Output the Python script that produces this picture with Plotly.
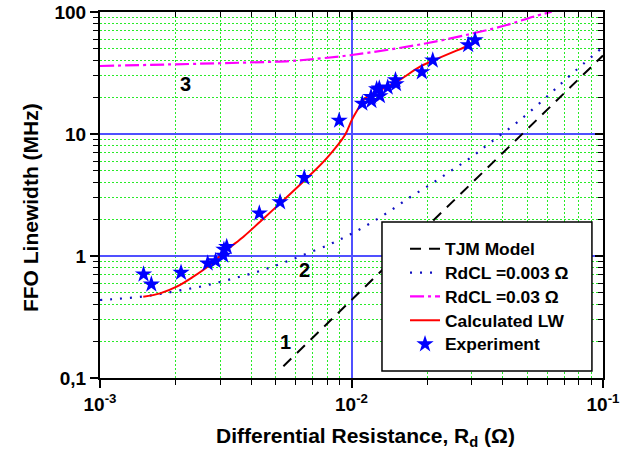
import math
import plotly.graph_objects as go

# ---------------- data ----------------
exp_x = [0.00149, 0.00160, 0.00210, 0.00268, 0.00288, 0.00309, 0.00311, 0.00319,
         0.00430, 0.00520, 0.00649, 0.00893, 0.01104, 0.01200, 0.01196, 0.01259,
         0.01297, 0.01290, 0.01393, 0.01503, 0.01496, 0.01905, 0.02104, 0.02910, 0.03100]
exp_y = [0.708, 0.586, 0.73, 0.87, 0.91, 1.01, 1.13, 1.19,
         2.24, 2.77, 4.38, 12.9, 17.8, 18.7, 20.2, 23.3,
         20.5, 23.7, 24.1, 25.7, 27.7, 32.2, 40.2, 53.7, 58.9]

calc_x = [0.001486, 0.001733, 0.002018, 0.00235, 0.002736, 0.00319, 0.00372, 0.00433,
          0.0052, 0.00653, 0.00796, 0.00942, 0.01002, 0.01064, 0.01132, 0.0126,
          0.01513, 0.01872, 0.02106, 0.0291, 0.031]
calc_y = [0.463, 0.494, 0.56, 0.677, 0.844, 1.12, 1.44, 1.91,
          2.70, 4.20, 6.32, 9.82, 13.0, 16.2, 19.6, 22.2,
          26.8, 35.6, 39.9, 52.9, 56.0]

rd03_x = [0.001, 0.00569, 0.00643, 0.01002, 0.0199, 0.0305, 0.0414, 0.0528, 0.0625]
rd03_y = [36.1, 39.6, 40.4, 44.4, 55.4, 66.9, 78.2, 91.5, 100.5]

rd003_x = [0.001, 0.0012, 0.001442, 0.001733, 0.00208, 0.0025, 0.003, 0.0036, 0.00433,
           0.0052, 0.00628, 0.00821, 0.00986, 0.01185, 0.01422, 0.01708, 0.02065,
           0.02479, 0.02977, 0.03577, 0.04677, 0.06194, 0.07438, 0.0979]
rd003_y = [0.436, 0.447, 0.463, 0.488, 0.523, 0.56, 0.612, 0.677, 0.754,
           0.86, 1.0, 1.25, 1.50, 1.85, 2.34, 3.03, 3.87,
           4.97, 6.40, 8.55, 13.0, 21.6, 30.5, 49.7]

tjm_x = [0.00536, 0.1]
tjm_y = [0.125, 44.0]

series_names = ["TJM Model", "RdCL =0.003 Ω", "RdCL =0.03 Ω", "Calculated LW", "Experiment"]

x_tickvals = [0.001, 0.01, 0.1]
x_ticktext = ["10<sup>-3</sup>", "10<sup>-2</sup>", "10<sup>-1</sup>"]
y_tickvals = [0.1, 1, 10, 100]
y_ticktext = ["0,1", "1", "10", "100"]

x_title = "Differential Resistance, R<sub>d</sub> (Ω)"
y_title = "FFO Linewidth (MHz)"

curve_labels = ["1", "2", "3"]
label_x = [0.00544, 0.00653, 0.00218]
label_y = [0.197, 0.77, 25.7]

# ---------------- figure ----------------
FONT = "Liberation Sans, Arial, sans-serif"


def lg(name):
    return '<span style="font-size:17.4px">' + name + '</span>'


fig = go.Figure()

fig.add_trace(go.Scatter(x=tjm_x, y=tjm_y, mode="lines", name=lg(series_names[0]),
                         line=dict(color="black", width=2, dash="11px,8px")))
fig.add_trace(go.Scatter(x=rd003_x, y=rd003_y, mode="lines", name=lg(series_names[1]),
                         line=dict(color="#1010c0", width=2.2, dash="2px,8px", shape="spline")))
fig.add_trace(go.Scatter(x=rd03_x, y=rd03_y, mode="lines", name=lg(series_names[2]),
                         line=dict(color="#ff00ff", width=2.2, dash="14px,4px,3px,4px", shape="spline")))
fig.add_trace(go.Scatter(x=calc_x, y=calc_y, mode="lines", name=lg(series_names[3]),
                         line=dict(color="#ff0000", width=2, shape="spline")))
fig.add_trace(go.Scatter(x=exp_x, y=exp_y, mode="markers", name=lg(series_names[4]),
                         marker=dict(symbol="star", color="#0000ff", size=13,
                                     line=dict(width=0))))
# invisible trace to bind the mirrored (top/right) axes
fig.add_trace(go.Scatter(x=[0.001], y=[0.1], xaxis="x2", yaxis="y2", mode="markers",
                         marker=dict(opacity=0), showlegend=False, hoverinfo="skip"))


def minor_vals(lo, hi):
    out = []
    for e in range(lo, hi):
        for m in range(2, 10):
            out.append(m * 10 ** e)
    return out


xminor = minor_vals(-3, -1)
yminor = minor_vals(-1, 2)

grid_green = "rgb(40,235,40)"
grid_blue = "rgb(80,80,255)"

fig.update_layout(
    width=624, height=450,
    margin=dict(l=100, r=21, t=12, b=72),
    paper_bgcolor="white", plot_bgcolor="white",
    font=dict(family=FONT, size=14, color="black", weight="bold"),
    showlegend=True,
    legend=dict(x=0.6064, y=0.399, xanchor="left", yanchor="top",
                bgcolor="rgba(0,0,0,0)", borderwidth=0,
                font=dict(family=FONT, size=16, color="black", weight="bold")),
    xaxis=dict(type="log", range=[-3, -1], automargin=False,
               tickvals=x_tickvals, ticktext=x_ticktext,
               ticks="outside", ticklen=8, tickwidth=1.5, tickcolor="black",
               showline=True, linecolor="black", linewidth=2,
               showgrid=True, gridcolor=grid_blue, gridwidth=1.6,
               zeroline=False,
               tickfont=dict(family=FONT, size=19, weight="bold"),
               minor=dict(tickvals=xminor, ticks="outside", ticklen=5, tickwidth=1.2,
                          tickcolor="black", showgrid=True, gridcolor=grid_green,
                          gridwidth=1, griddash="2px,2px")),
    yaxis=dict(type="log", range=[-1, 2], automargin=False,
               tickvals=y_tickvals, ticktext=y_ticktext,
               ticks="outside", ticklen=8, tickwidth=1.5, tickcolor="black",
               showline=True, linecolor="black", linewidth=2,
               showgrid=True, gridcolor=grid_blue, gridwidth=1.6,
               zeroline=False,
               tickfont=dict(family=FONT, size=19, weight="bold"),
               minor=dict(tickvals=yminor, ticks="outside", ticklen=5, tickwidth=1.2,
                          tickcolor="black", showgrid=True, gridcolor=grid_green,
                          gridwidth=1, griddash="2px,2px")),
    xaxis2=dict(type="log", range=[-3, -1], overlaying="x", side="top", anchor="y",
                automargin=False,
                tickvals=x_tickvals, showticklabels=False,
                ticks="inside", ticklen=8, tickwidth=1.5, tickcolor="black",
                showline=True, linecolor="black", linewidth=2, showgrid=False,
                zeroline=False,
                minor=dict(tickvals=xminor, ticks="inside", ticklen=5, tickwidth=1.2,
                           tickcolor="black", showgrid=False)),
    yaxis2=dict(type="log", range=[-1, 2], overlaying="y", side="right", anchor="x",
                automargin=False,
                tickvals=y_tickvals, showticklabels=False,
                ticks="inside", ticklen=8, tickwidth=1.5, tickcolor="black",
                showline=True, linecolor="black", linewidth=2, showgrid=False,
                zeroline=False,
                minor=dict(tickvals=yminor, ticks="inside", ticklen=5, tickwidth=1.2,
                           tickcolor="black", showgrid=False)),
)

# legend frame (white box covering the grid, like the original)
fig.add_shape(type="rect", xref="paper", yref="paper",
              x0=0.5606, x1=0.978, y0=0.0191, y1=0.4262,
              fillcolor="white", line=dict(color="black", width=1.5), layer="above")

# axis titles (placed as in the original, slightly off-centre)
fig.add_annotation(xref="paper", yref="paper", x=0.528, y=-0.161,
                   xanchor="center", yanchor="middle", showarrow=False,
                   text=x_title,
                   font=dict(family=FONT, size=21, color="black", weight="bold"))
fig.add_annotation(xref="paper", yref="paper", x=-0.137, y=0.4645,
                   xanchor="center", yanchor="middle", showarrow=False, textangle=-90,
                   text=y_title,
                   font=dict(family=FONT, size=21, color="black", weight="bold"))

for t, lx, ly in zip(curve_labels, label_x, label_y):
    fig.add_annotation(x=math.log10(lx), y=math.log10(ly), xref="x", yref="y", text=t,
                       showarrow=False,
                       font=dict(family=FONT, size=20, color="black", weight="bold"))

fig.write_html("out.html")
